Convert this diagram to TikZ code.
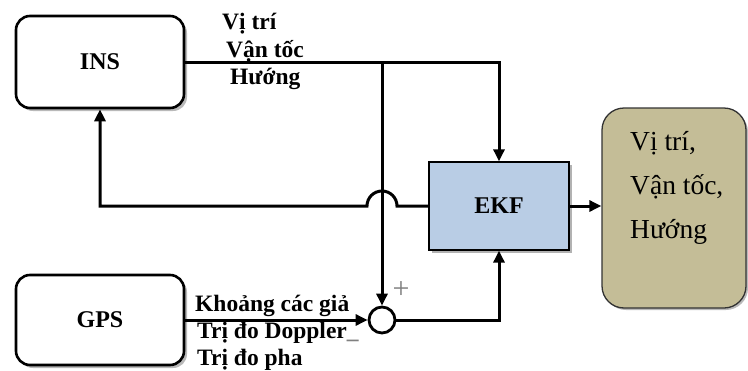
\documentclass[tikz,border=0pt]{standalone}
\usepackage{fontspec}
\setmainfont{Liberation Serif}
\usepackage{xcolor}
\usetikzlibrary{arrows.meta,positioning,calc,shadows}

\definecolor{ekfblue}{RGB}{185,205,229}
\definecolor{outtan}{RGB}{196,189,151}

\tikzset{
    blockbox/.style={draw, line width=2.6pt, rounded corners=14pt, fill=white, minimum width=168pt, minimum height=92pt,
        font=\bfseries\fontsize{24}{28}\selectfont,
        drop shadow={shadow xshift=3pt, shadow yshift=-3pt, fill=gray!55, opacity=1}},
    sigline/.style={line width=3pt},
    lbl/.style={anchor=west, inner sep=0pt, font=\bfseries\fontsize{23.5}{27}\selectfont}
}

\begin{document}
\begin{tikzpicture}[x=1pt, y=-1pt, >={Triangle[length=12pt,width=11pt]}]
\useasboundingbox (0,0) rectangle (748,370);

% blocks
\node[blockbox] (ins) at (100,62) {INS};
\node[blockbox, minimum height=90pt] (gps) at (100,320) {GPS};
\node[draw, line width=1.3pt, fill=ekfblue, minimum width=140pt, minimum height=88pt,
      font=\bfseries\fontsize{24}{28}\selectfont,
      drop shadow={shadow xshift=3pt, shadow yshift=-3pt, fill=gray!60, opacity=1}] (ekf) at (499,206) {EKF};
\node[draw, line width=1.3pt, draw=black!80, fill=outtan, rounded corners=22pt, minimum width=144pt, minimum height=200pt,
      drop shadow={shadow xshift=2pt, shadow yshift=-2pt, fill=gray!55, opacity=1}] (out) at (674,208) {};
\node[anchor=west, inner sep=0pt, align=left, font=\fontsize{27.5}{44}\selectfont] (outtext) at (630,188)
    {Vị trí,\\ Vận tốc,\\ Hướng};

% summing junction
\node[draw, circle, line width=2.8pt, minimum size=26pt, inner sep=0pt] (sum) at (382,320) {};
\coordinate (split) at (sum |- ins.east);

% signal labels
\node[lbl] (lpos) at (222,24) {Vị trí};
\node[lbl] (lvel) at (226,51) {Vận tốc};
\node[lbl] (lhead) at (230,79) {Hướng};
\node[lbl] (lrange) at (195,306) {Khoảng các giả};
\node[lbl] (ldop) at (197,333) {Trị đo Doppler\textcolor{gray}{\_}};
\node[lbl] (lphase) at (197,360) {Trị đo pha};
\node[text=gray, font=\fontsize{30}{30}\selectfont, inner sep=0pt] (plus) at (401,290) {+};

% connectors
\draw[sigline,->] (ins.east) -| (ekf.north);
\draw[sigline,->] (split) -- (sum.north);
\draw[sigline,->] (gps.east) -- (sum.west);
\draw[sigline,->] (sum.east) -| (ekf.south);
\draw[sigline,->] (ekf.east) -- (ekf.east -| out.west);
\draw[sigline,->] (ekf.west) -- ($(sum |- ekf.west)+(15,0)$) arc[start angle=0, end angle=-180, radius=15]
    -- (ins.south |- ekf.west) -- (ins.south);
\end{tikzpicture}
\end{document}
